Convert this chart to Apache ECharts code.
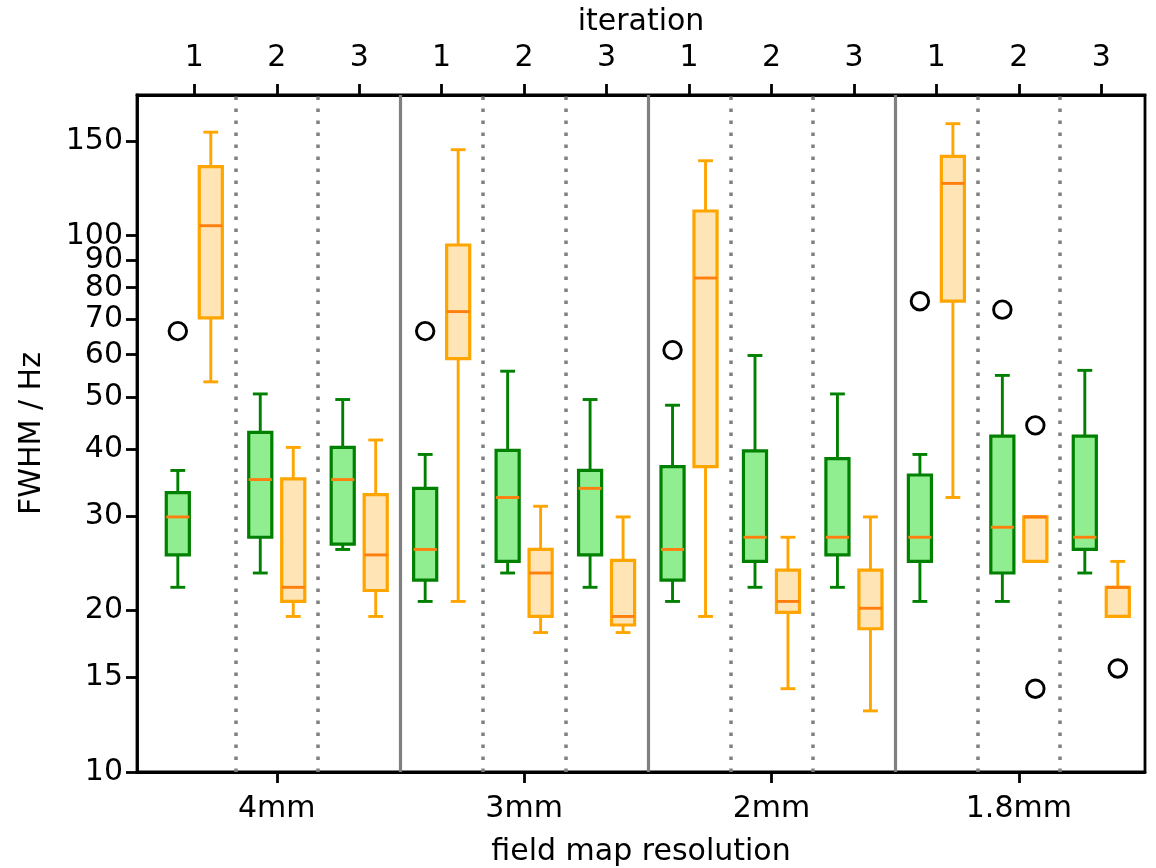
<!DOCTYPE html>
<html>
<head>
<meta charset="utf-8">
<script src="https://cdn.jsdelivr.net/npm/echarts@6/dist/echarts.min.js"></script>
<style>
html, body { margin: 0; padding: 0; background: #fff; }
#chart { width: 1156px; height: 868px; }
</style>
</head>
<body>
<div id="chart"></div>
<script>
// field map resolution groups, each with three iterations
const resolutions = ['4mm', '3mm', '2mm', '1.8mm'];
const iterations = ['1', '2', '3'];
const yTicks = [10, 15, 20, 30, 40, 50, 60, 70, 80, 90, 100, 150];

// [min, q1, median, q3, max] for every resolution x iteration (12 rows)
const greenStats = [
  [22.1, 25.4, 29.9, 33.2, 36.5],
  [23.5, 27.4, 35.1, 43.0, 50.7],
  [26.0, 26.6, 35.1, 40.3, 49.5],
  [20.8, 22.8, 26.0, 33.8, 39.1],
  [23.5, 24.7, 32.5, 39.8, 55.9],
  [22.1, 25.4, 33.8, 36.5, 49.5],
  [20.8, 22.8, 26.0, 37.1, 48.3],
  [22.1, 24.7, 27.4, 39.7, 59.8],
  [22.1, 25.4, 27.4, 38.4, 50.7],
  [20.8, 24.7, 27.4, 35.8, 39.1],
  [20.8, 23.5, 28.6, 42.3, 54.9],
  [23.5, 26.0, 27.4, 42.3, 56.1]
];
const orangeStats = [
  [53.4, 70.3, 104.4, 134.5, 156.0],
  [19.5, 20.8, 22.1, 35.2, 40.3],
  [19.5, 21.8, 25.4, 32.9, 41.6],
  [20.8, 59.0, 72.2, 96.1, 144.7],
  [18.2, 19.5, 23.5, 26.0, 31.3],
  [18.2, 18.8, 19.5, 24.8, 29.9],
  [19.5, 37.1, 83.4, 111.2, 138.0],
  [14.3, 19.85, 20.8, 23.8, 27.4],
  [13.0, 18.5, 20.2, 23.8, 29.9],
  [32.5, 75.5, 125.2, 140.6, 161.8],
  [24.7, 24.7, 29.9, 29.9, 29.9],
  [19.5, 19.5, 22.1, 22.1, 24.7]
];
// outliers: [slot index, value]
const greenOutliers = [[0, 66.4], [3, 66.4], [6, 61.2], [9, 75.5], [10, 72.8]];
const orangeOutliers = [[10, 44.3], [10, 14.3], [11, 15.6]];

const FONT = 'DejaVu Sans';
const xMin = 0.305, xMax = 12.53;
const shift = 0.2;      // green left of tick, orange right
const boxHalf = 0.14;
const capHalf = 0.09;
const medianColor = '#FF7F0E';

const slots = [];
for (let i = 1; i <= resolutions.length * iterations.length; i++) slots.push(i);
const midTicks = resolutions.map((r, g) => g * 3 + 2);
const solidSeps = [3.5, 6.5, 9.5];
const dottedSeps = [1.5, 2.5, 4.5, 5.5, 7.5, 8.5, 10.5, 11.5];

function boxRenderer(fill, stroke) {
  return function (params, api) {
    const x = api.value(0);
    const med = api.value(3);
    const lo = api.coord([x, api.value(1)]);
    const q1 = api.coord([x, api.value(2)]);
    const pm = api.coord([x, med]);
    const q3 = api.coord([x, api.value(4)]);
    const hi = api.coord([x, api.value(5)]);
    const left = api.coord([x - boxHalf, med])[0];
    const right = api.coord([x + boxHalf, med])[0];
    const capL = api.coord([x - capHalf, med])[0];
    const capR = api.coord([x + capHalf, med])[0];
    const cx = pm[0];
    const ls = { stroke: stroke, lineWidth: 2.9 };
    return {
      type: 'group',
      children: [
        { type: 'line', shape: { x1: cx, y1: lo[1], x2: cx, y2: q1[1] }, style: ls },
        { type: 'line', shape: { x1: cx, y1: q3[1], x2: cx, y2: hi[1] }, style: ls },
        { type: 'line', shape: { x1: capL, y1: lo[1], x2: capR, y2: lo[1] }, style: ls },
        { type: 'line', shape: { x1: capL, y1: hi[1], x2: capR, y2: hi[1] }, style: ls },
        { type: 'rect', shape: { x: left, y: q3[1], width: right - left, height: q1[1] - q3[1] },
          style: { fill: fill, stroke: stroke, lineWidth: 3.2 } },
        { type: 'line', shape: { x1: left, y1: pm[1], x2: right, y2: pm[1] },
          style: { stroke: medianColor, lineWidth: 2.9 } }
      ]
    };
  };
}

const axisLineStyle = { color: '#000', width: 2.8 };
const labelStyle = { fontFamily: FONT, fontSize: 30, color: '#000' };

const chart = echarts.init(document.getElementById('chart'));
chart.setOption({
  animation: false,
  backgroundColor: '#fff',
  grid: {
    left: 137, right: 11, top: 95, bottom: 96, outerBoundsMode: 'none',
    show: true, borderColor: '#000', borderWidth: 2.8
  },
  xAxis: [
    {
      type: 'value', position: 'bottom', min: xMin, max: xMax,
      name: 'field map resolution', nameLocation: 'middle', nameGap: 65,
      nameTextStyle: labelStyle,
      axisLine: { onZero: false, lineStyle: axisLineStyle },
      axisTick: { length: 11, lineStyle: axisLineStyle, customValues: midTicks },
      axisLabel: Object.assign({ margin: 22, customValues: midTicks,
        formatter: v => resolutions[Math.round((v - 2) / 3)] }, labelStyle),
      splitLine: { show: false }
    },
    {
      type: 'value', position: 'top', min: xMin, max: xMax,
      name: 'iteration', nameLocation: 'middle', nameGap: 58,
      nameTextStyle: labelStyle,
      axisLine: { onZero: false, lineStyle: axisLineStyle },
      axisTick: { length: 11, lineStyle: axisLineStyle, customValues: slots },
      axisLabel: Object.assign({ margin: 22, customValues: slots,
        formatter: v => iterations[(Math.round(v) - 1) % 3] }, labelStyle),
      splitLine: { show: false }
    }
  ],
  yAxis: {
    type: 'log', logBase: 10, min: 10, max: 183,
    name: 'FWHM / Hz', nameLocation: 'middle', nameRotate: 90, nameGap: 90,
    nameTextStyle: labelStyle,
    axisLine: { onZero: false, lineStyle: axisLineStyle },
    axisTick: { length: 11, lineStyle: axisLineStyle, customValues: yTicks },
    axisLabel: Object.assign({ margin: 14, customValues: yTicks,
      formatter: v => String(Math.round(v)) }, labelStyle),
    splitLine: { show: false },
    minorTick: { show: false }
  },
  series: [
    {
      type: 'custom', name: 'green', xAxisIndex: 0,
      renderItem: boxRenderer('#90EE90', '#008000'),
      encode: { x: 0, y: [1, 2, 3, 4, 5] },
      data: greenStats.map((s, k) => [slots[k] - shift].concat(s)),
      markLine: {
        silent: true, symbol: ['none', 'none'], label: { show: false },
        data: solidSeps.map(v => ({ xAxis: v, lineStyle: { type: 'solid', width: 3.2, color: '#808080' } }))
          .concat(dottedSeps.map(v => ({ xAxis: v, lineStyle: { type: [3.5, 8.5], width: 3.5, color: '#808080' } })))
      }
    },
    {
      type: 'custom', name: 'orange', xAxisIndex: 0,
      renderItem: boxRenderer('#FFE4B5', '#FFA500'),
      encode: { x: 0, y: [1, 2, 3, 4, 5] },
      data: orangeStats.map((s, k) => [slots[k] + shift].concat(s))
    },
    {
      type: 'scatter', name: 'outliers', xAxisIndex: 0, z: 5,
      symbol: 'circle', symbolSize: 17.5,
      itemStyle: { color: 'rgba(0,0,0,0)', borderColor: '#000', borderWidth: 2.9, opacity: 1 },
      data: greenOutliers.map(o => [slots[o[0]] - shift, o[1]])
        .concat(orangeOutliers.map(o => [slots[o[0]] + shift, o[1]]))
    }
  ]
});
</script>
</body>
</html>
